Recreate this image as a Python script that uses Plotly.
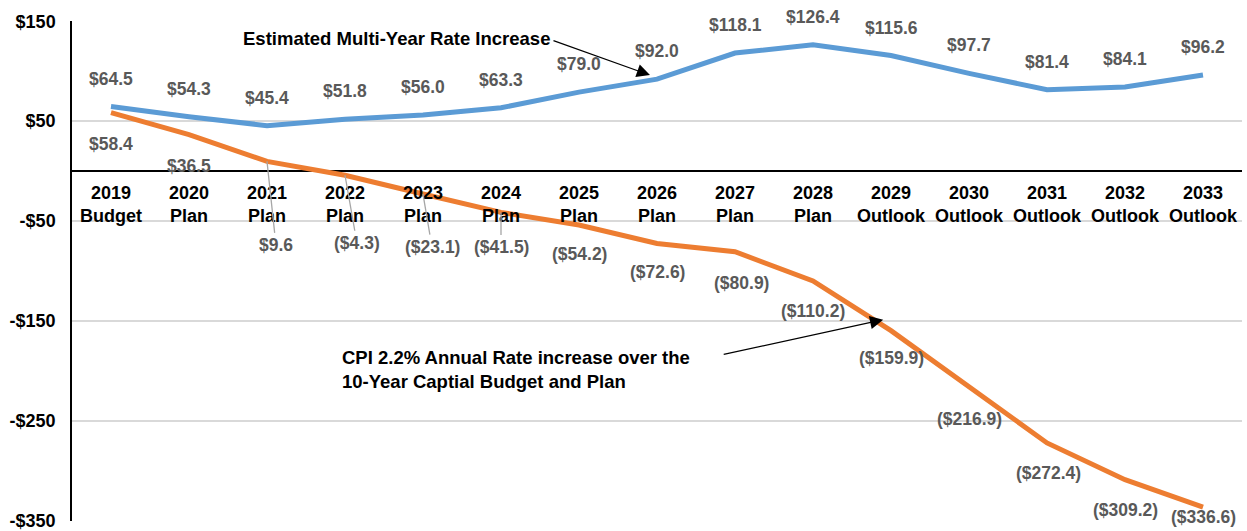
import plotly.graph_objects as go

categories = ["2019<br>Budget", "2020<br>Plan", "2021<br>Plan", "2022<br>Plan", "2023<br>Plan",
              "2024<br>Plan", "2025<br>Plan", "2026<br>Plan", "2027<br>Plan", "2028<br>Plan",
              "2029<br>Outlook", "2030<br>Outlook", "2031<br>Outlook", "2032<br>Outlook", "2033<br>Outlook"]
multi_year = [64.5, 54.3, 45.4, 51.8, 56.0, 63.3, 79.0, 92.0, 118.1, 126.4, 115.6, 97.7, 81.4, 84.1, 96.2]
cpi_gap = [58.4, 36.5, 9.6, -4.3, -23.1, -41.5, -54.2, -72.6, -80.9, -110.2, -159.9, -216.9, -272.4, -309.2, -336.6]
y_ticks = [150, 50, -50, -150, -250, -350]
y_tick_labels = ["$150", "$50", "-$50", "-$150", "-$250", "-$350"]

# label placement (pixel offsets) for the orange series
orange_dx = [0, 0, 9, 12, 9, 0, 0, 0, 6, 0, 0, 0, 1, 0, 0]
orange_dy = [31, 31, 84, 68, 53, 35, 29, 29, 31, 30, 27, 31, 30, 30, 10]
orange_leader = [False, False, True, True, True, True, False, False, False, False, False, False, False, False, False]

BLUE = "#5B9BD5"
ORANGE = "#ED7D31"
LABEL = "#595959"
FONT = "Arial, 'Liberation Sans', sans-serif"

def money(v):
    return f"(${abs(v):.1f})" if v < 0 else f"${v:.1f}"

idx = list(range(len(categories)))

fig = go.Figure()
fig.add_trace(go.Scatter(x=idx, y=multi_year, mode="lines",
                         line=dict(color=BLUE, width=5), hoverinfo="skip", showlegend=False))
fig.add_trace(go.Scatter(x=idx, y=cpi_gap, mode="lines",
                         line=dict(color=ORANGE, width=5), hoverinfo="skip", showlegend=False))

ann = []
lab_font = dict(family=FONT, size=17.5, color=LABEL, weight="bold")
for i, v in enumerate(multi_year):
    ann.append(dict(x=i, y=v, xref="x", yref="y", text=money(v), showarrow=False,
                    yshift=28, font=lab_font))
for i, v in enumerate(cpi_gap):
    if orange_leader[i]:
        ann.append(dict(x=i, y=v, xref="x", yref="y", text=money(v), showarrow=True,
                        arrowhead=0, arrowwidth=1.3, arrowcolor="#A6A6A6",
                        ax=orange_dx[i], ay=orange_dy[i], font=lab_font, borderpad=2))
    else:
        ann.append(dict(x=i, y=v, xref="x", yref="y", text=money(v), showarrow=False,
                        xshift=orange_dx[i], yshift=-orange_dy[i], font=lab_font))

txt_font = dict(family=FONT, size=18.5, color="black", weight="bold")
ann.append(dict(x=6.91, y=96, xref="x", yref="y", text="", showarrow=True,
                arrowhead=2, arrowsize=2.2, arrowwidth=1.2, arrowcolor="black",
                ax=-98, ay=-35))
ann.append(dict(x=6.91, y=96, xref="x", yref="y", text="Estimated Multi-Year Rate Increase",
                showarrow=False, xanchor="right", yanchor="middle", xshift=-98, yshift=37,
                font=txt_font))
ann.append(dict(x=9.9, y=-149, xref="x", yref="y", text="", showarrow=True,
                arrowhead=2, arrowsize=2.2, arrowwidth=1.2, arrowcolor="black",
                ax=-161, ay=35))
ann.append(dict(x=2.93, y=-199, xref="x", yref="y",
                text="CPI 2.2% Annual Rate increase over the<br>10-Year Captial Budget and Plan",
                showarrow=False, xanchor="left", yanchor="middle", align="left",
                font=txt_font))

fig.update_layout(
    width=1247, height=531,
    margin=dict(l=72, r=5, t=21, b=10),
    paper_bgcolor="white", plot_bgcolor="white",
    annotations=ann,
    xaxis=dict(range=[-0.5, 14.5], tickvals=idx, ticktext=categories,
               anchor="free", position=0.7, showgrid=False, zeroline=False,
               showline=False, ticks="", automargin=False, ticklabelstandoff=9,
               tickfont=dict(family=FONT, size=18, color="black", weight="bold")),
    yaxis=dict(range=[-350.6, 150.2], tickvals=y_ticks, ticktext=y_tick_labels,
               showgrid=True, gridcolor="#D9D9D9", gridwidth=1.5,
               zeroline=True, zerolinecolor="black", zerolinewidth=1.5,
               showline=True, linecolor="black", linewidth=1.5, automargin=False,
               ticks="", ticklabelstandoff=11,
               tickfont=dict(family=FONT, size=18, color="black", weight="bold")),
)

fig.write_html("out.html", config={"displayModeBar": False},
               post_script="document.body.style.margin='0';")
